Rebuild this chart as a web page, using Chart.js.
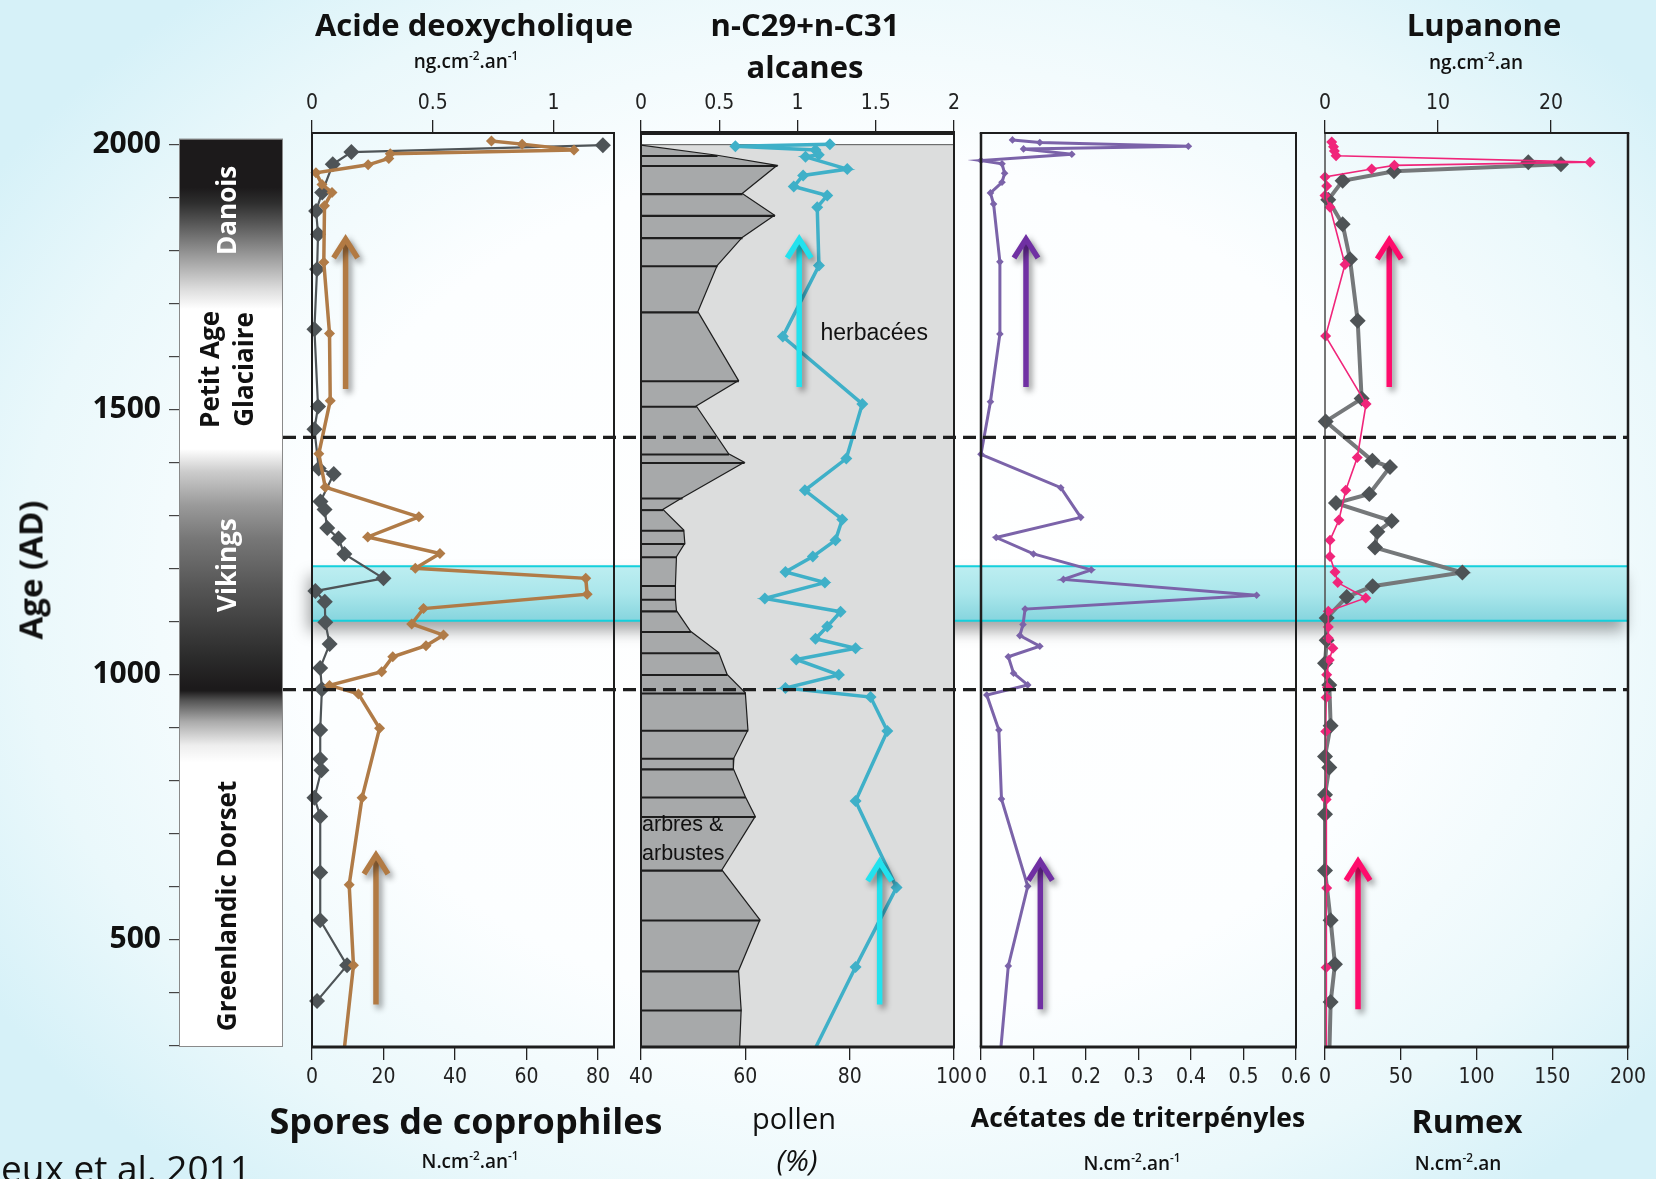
<!DOCTYPE html>
<html><head><meta charset="utf-8">
<script src="https://cdn.jsdelivr.net/npm/chart.js@4.4.1/dist/chart.umd.min.js"></script>
<style>
html,body{margin:0;padding:0;}
body{width:1656px;height:1179px;overflow:hidden;position:relative;
background: radial-gradient(ellipse 62% 66% at 52% 50%, #ffffff 0%, #fcfeff 55%, #eaf8fb 82%, #d6f1f8 100%);
font-family:'Open Sans',sans-serif;color:#111;}
canvas{position:absolute;}
.t{position:absolute;transform:translate(-50%,-50%);white-space:nowrap;line-height:1;}
.b{font-weight:700;}
.s{font-size:19px;font-weight:600;}
sup{font-size:0.62em;vertical-align:0.6em;line-height:0;}
</style></head><body>
<canvas id="base"></canvas>
<canvas id="p1"></canvas>
<canvas id="p2"></canvas>
<canvas id="p3"></canvas>
<canvas id="p4"></canvas>
<canvas id="over"></canvas>

<div class="t b" style="left:474px;top:24px;font-size:31px;">Acide deoxycholique</div>
<div class="t s" style="left:466px;top:61px;">ng.cm<sup>-2</sup>.an<sup>-1</sup></div>
<div class="t b" style="left:805px;top:24px;font-size:31px;">n-C29+n-C31</div>
<div class="t b" style="left:805px;top:66px;font-size:31px;">alcanes</div>
<div class="t b" style="left:1484px;top:24px;font-size:31px;">Lupanone</div>
<div class="t s" style="left:1476px;top:62px;">ng.cm<sup>-2</sup>.an</div>

<div class="t b" style="left:466px;top:1121px;font-size:36px;">Spores de coprophiles</div>
<div class="t s" style="left:470px;top:1161px;">N.cm<sup>-2</sup>.an<sup>-1</sup></div>
<div class="t" style="left:794px;top:1117px;font-size:29px;">pollen</div>
<div class="t" style="left:797px;top:1160px;font-size:30px;font-style:italic;">(%)</div>
<div class="t b" style="left:1138px;top:1117px;font-size:26.5px;">Acétates de triterpényles</div>
<div class="t s" style="left:1132px;top:1163px;">N.cm<sup>-2</sup>.an<sup>-1</sup></div>
<div class="t b" style="left:1467px;top:1121px;font-size:32px;">Rumex</div>
<div class="t s" style="left:1458px;top:1163px;">N.cm<sup>-2</sup>.an</div>
<div class="t" style="left:1px;top:1167px;font-size:37px;transform:translate(0,-50%);">eux et al. 2011</div>
<div class="t b" style="left:30px;top:570px;font-size:33px;transform:translate(-50%,-50%) rotate(-90deg);">Age (AD)</div>

<script>
// ================= DATA =================
// Panel 1 : Acide deoxycholique (ng.cm-2.an-1, top axis) - grey
const deoxyAge = [1999,1986,1963,1910,1875,1831,1765,1652,1506,1463,1389,1379,1327,1312,1277,1257,1228,1182,1158,1138,1099,1058,1013,973,896,841,820,768,733,627,537,452,385];
const deoxyVal = [1.204,0.163,0.086,0.042,0.017,0.025,0.021,0.010,0.025,0.010,0.028,0.090,0.035,0.052,0.063,0.110,0.134,0.296,0.014,0.053,0.055,0.073,0.034,0.041,0.034,0.034,0.039,0.010,0.034,0.034,0.034,0.145,0.021];
// Panel 1 : Spores de coprophiles (N.cm-2.an-1, bottom axis) - brown
const copAge = [2007,2001,1990,1983,1974,1962,1947,1925,1910,1885,1778,1644,1517,1417,1354,1298,1260,1229,1201,1182,1152,1125,1096,1075,1055,1034,1006,980,964,899,768,604,452,298];
const copVal = [50.2,58.8,73.3,21.9,21.5,15.7,1.1,2.8,5.6,3.5,3.3,4.9,5.1,1.9,3.7,29.9,15.6,35.8,28.9,76.6,77.0,31.2,27.9,36.8,31.9,22.6,19.5,4.9,13.0,18.9,14.0,10.4,11.6,9.1];
// Panel 2 : n-C29+n-C31 alcanes (top axis) - cyan
const alcAge = [2001,1997,1990,1981,1977,1954,1942,1921,1904,1882,1772,1638,1511,1408,1348,1293,1254,1223,1194,1174,1144,1119,1091,1068,1050,1029,1000,975,958,894,762,599,449,298];
const alcVal = [1.207,0.603,1.115,1.136,1.051,1.318,1.036,0.976,1.190,1.126,1.137,0.906,1.414,1.312,1.047,1.286,1.243,1.098,0.923,1.175,0.791,1.275,1.190,1.115,1.371,0.992,1.264,0.923,1.467,1.574,1.371,1.633,1.371,1.118];
// Panel 2 : pollen arbres & arbustes (%, bottom axis)
const polAge = [1999,1980,1961,1908,1867,1825,1772,1685,1555,1507,1417,1401,1334,1312,1273,1248,1223,1169,1143,1121,1082,1042,1001,966,896,843,823,770,733,632,538,442,368,297];
const polVal = [40.0,54.6,66.1,59.4,65.6,59.4,54.6,50.9,58.7,50.6,56.8,59.8,47.9,44.2,48.2,48.4,46.8,46.6,46.6,46.8,49.5,54.9,56.5,60.0,60.5,57.8,57.7,60.0,61.9,55.5,62.8,58.7,59.2,58.9];
const pollenTopAge = 2000;
// Panel 3 : Acétates de triterpényles (bottom axis) - purple
const triAge = [2009,2004,1997,1992,1982,1970,1964,1946,1929,1909,1888,1779,1643,1515,1416,1353,1297,1259,1228,1198,1180,1150,1124,1095,1074,1054,1034,1003,981,962,896,766,601,451,298];
const triVal = [0.060,0.112,0.395,0.081,0.173,0.000,0.040,0.045,0.040,0.018,0.024,0.036,0.036,0.018,0.000,0.152,0.190,0.029,0.100,0.210,0.157,0.525,0.084,0.080,0.074,0.112,0.052,0.062,0.089,0.011,0.034,0.039,0.089,0.052,0.038];
// Panel 4 : Lupanone (top axis) - grey
const lupAge = [1967,1963,1950,1932,1896,1850,1784,1668,1521,1478,1404,1392,1341,1324,1290,1270,1240,1193,1167,1147,1107,1065,1022,981,904,846,825,774,737,631,537,454,383,298];
const lupVal = [17.98,20.87,6.10,1.56,0.29,1.56,2.21,2.89,3.24,0.06,4.19,5.75,3.92,0.97,5.90,4.63,4.42,12.15,4.21,1.92,0.15,0.15,0.0,0.38,0.5,0.0,0.38,0.0,0.0,0.0,0.5,0.88,0.5,0.4];
// Panel 4 : Rumex (bottom axis) - pink
const rumAge = [2005,1996,1988,1979,1967,1961,1954,1939,1922,1904,1882,1774,1639,1511,1410,1348,1292,1254,1223,1194,1174,1145,1120,1090,1069,1050,1028,1000,976,957,893,765,598,448,298];
const rumVal = [4.4,5.6,6.2,7.3,175,45.8,30.8,0,1.1,0,3.3,13.2,0.4,27.1,21.3,13.7,9.2,3.3,3.3,6.6,8.4,26.9,2.2,2.2,2.2,5.2,2.8,1.1,1.7,0.8,0.5,0.8,1.1,0.8,0.8];

// axes & ticks
const AGE_MIN = 298, AGE_MAX = 2022;
const ageTicks = [300,400,500,600,700,800,900,1000,1100,1200,1300,1400,1500,1600,1700,1800,1900,2000];
const ageLabelled = [500,1000,1500,2000];
const deoxyRange = [0,1.25], deoxyTicks = [0,0.5,1];
const copRange = [0,84.5], copTicks = [0,20,40,60,80];
const alcRange = [0,2], alcTicks = [0,0.5,1,1.5,2];
const polRange = [40,100], polTicks = [40,60,80,100];
const triRange = [0,0.6], triTicks = [0,0.1,0.2,0.3,0.4,0.5,0.6];
const lupRange = [0,26.8], lupTicks = [0,10,20];
const rumRange = [0,200], rumTicks = [0,50,100,150,200];

// periods, band, limits
const periods = [
  {lines:['Danois'], age:1876, color:'#ffffff'},
  {lines:['Petit Age','Glaciaire'], age:1576, color:'#111111'},
  {lines:['Vikings'], age:1207, color:'#ffffff'},
  {lines:['Greenlandic Dorset'], age:564, color:'#111111'}
];
const chronoTopAge = 2011;
const chronoStops = [[2011,'#1c1a1b'],[1919,'#1c1a1b'],[1890,'#2e2e2e'],[1853,'#555555'],[1791,'#999999'],[1727,'#dddddd'],[1690,'#ffffff'],[1426,'#ffffff'],[1383,'#cccccc'],[1320,'#9a9a9a'],[1257,'#777777'],[1163,'#555555'],[1029,'#2a2a2a'],[977,'#1c1a1b'],[970,'#1c1a1b'],[951,'#555555'],[912,'#aaaaaa'],[867,'#eeeeee'],[835,'#ffffff'],[298,'#ffffff']];
const bandAges = [1102,1205];
const dashedAges = [1448,972];

// arrows (value on axis, from age -> to age)
const arrows1 = [{axis:'xBot', x:9.4, from:1539, to:1822},{axis:'xBot', x:17.9, from:378, to:660}];
const arrows2 = [{axis:'xTop', x:1.011, from:1543, to:1822},{axis:'xTop', x:1.525, from:378, to:647}];
const arrows3 = [{axis:'xBot', x:0.0857, from:1543, to:1822},{axis:'xBot', x:0.113, from:369, to:648}];
const arrows4 = [{axis:'xBot', x:42.4, from:1543, to:1820},{axis:'xBot', x:21.8, from:369, to:648}];

// ================= LAYOUT =================
const AREA_TOP = 133, AREA_BOTTOM = 1047;
const TOP_H = 45, BOT_H = 50, PAD = 28;
const CHRONO_L = 179, CHRONO_R = 283, BAND_L = 312, BAND_R = 1628, DASH_L = 283, DASH_R = 1628;
const TICK_FONT = "'Liberation Sans Narrow', 'DejaVu Sans Condensed', Roboto, sans-serif";
const P1 = {l:312, r:614}, P2 = {l:641, r:954}, P3 = {l:981, r:1296}, P4 = {l:1325, r:1628};

Chart.defaults.font.family = "'Open Sans', sans-serif";

function pts(ages, vals){ return ages.map((a,i)=>({x:vals[i], y:a})); }
function rad(r){ return ctx => (ctx.raw && ctx.raw.y <= AGE_MIN + 1) ? 0 : r; }
function lineDS(ages, vals, axis, color, width, r, pcolor){
  return {type:'line', data:pts(ages,vals), xAxisID:axis, yAxisID:'y', borderColor:color, backgroundColor:pcolor||color,
    borderWidth:width, pointStyle:'rectRot', pointRadius:rad(r), pointBorderWidth:0, pointBackgroundColor:pcolor||color,
    tension:0, fill:false, clip:false};
}
function xAxis(pos, range, ticks){
  return {type:'linear', position:pos, min:range[0], max:range[1], offset:false,
    afterBuildTicks: s => { s.ticks = ticks.map(v=>({value:v})); },
    afterFit: s => { s.height = (pos==='top') ? TOP_H : BOT_H; },
    grid:{drawOnChartArea:false, drawTicks:true, tickLength:13, color:'#222', lineWidth:1.3, offset:false},
    border:{display:false},
    ticks:{font:{family:TICK_FONT, size:21}, color:'#222', padding:(pos==='top')?4:5, maxRotation:0, autoSkip:false, callback:v=>String(v)}
  };
}
function drawArrow(ctx, x, yTail, yHead, color){
  ctx.save();
  ctx.shadowColor='rgba(0,0,0,0.45)'; ctx.shadowBlur=6; ctx.shadowOffsetX=3; ctx.shadowOffsetY=4;
  ctx.strokeStyle=color; ctx.lineWidth=5.5; ctx.lineCap='butt'; ctx.lineJoin='miter';
  ctx.beginPath(); ctx.moveTo(x,yTail); ctx.lineTo(x,yHead+3); ctx.stroke();
  ctx.beginPath(); ctx.moveTo(x-12,yHead+19); ctx.lineTo(x,yHead); ctx.lineTo(x+12,yHead+19); ctx.stroke();
  ctx.restore();
}
function panelPlugin(o){
  return {id:'panelDeco',
    beforeDatasetsDraw(chart){
      if(!o.herb) return;
      const a = chart.chartArea, ctx = chart.ctx, y0 = chart.scales.y.getPixelForValue(pollenTopAge);
      ctx.save(); ctx.fillStyle='#dcdddd'; ctx.fillRect(a.left, y0, a.right-a.left, a.bottom-y0);
      ctx.strokeStyle='#555'; ctx.lineWidth=1; ctx.beginPath(); ctx.moveTo(a.left,y0); ctx.lineTo(a.right,y0); ctx.stroke();
      ctx.restore();
    },
    afterDatasetsDraw(chart){
      const a = chart.chartArea, ctx = chart.ctx, f = o.frame, ys = chart.scales.y;
      ctx.save(); ctx.strokeStyle='#1e1e1e';
      const seg=(w,x1,y1,x2,y2,c)=>{ctx.lineWidth=w; ctx.strokeStyle=c||'#1e1e1e'; ctx.beginPath(); ctx.moveTo(x1,y1); ctx.lineTo(x2,y2); ctx.stroke();};
      seg(f.l, a.left, a.top, a.left, a.bottom, f.lc);
      seg(f.r, a.right, a.top, a.right, a.bottom);
      seg(f.t, a.left-f.l/2, a.top, a.right+f.r/2, a.top);
      seg(f.b, a.left-f.l/2, a.bottom, a.right+f.r/2, a.bottom);
      ctx.restore();
      (o.texts||[]).forEach(t=>{
        ctx.save(); ctx.font=t.font; ctx.fillStyle='#111'; ctx.textAlign=t.align; ctx.textBaseline='middle';
        ctx.fillText(t.text, chart.scales[t.axis].getPixelForValue(t.x), ys.getPixelForValue(t.age)); ctx.restore();
      });
      (o.arrows||[]).forEach(ar=>{
        drawArrow(ctx, chart.scales[ar.axis].getPixelForValue(ar.x), ys.getPixelForValue(ar.from), ys.getPixelForValue(ar.to), o.arrowColor);
      });
    }
  };
}
function makePanel(id, rect, o){
  const cv = document.getElementById(id);
  const W = rect.r - rect.l + 2*PAD, H = TOP_H + (AREA_BOTTOM-AREA_TOP) + BOT_H;
  cv.width = W; cv.height = H;
  cv.style.left = (rect.l-PAD)+'px'; cv.style.top = (AREA_TOP-TOP_H)+'px';
  const scales = {y:{type:'linear', min:AGE_MIN, max:AGE_MAX, display:false, offset:false, grid:{offset:false}}};
  if(o.top) scales.xTop = xAxis('top', o.top[0], o.top[1]);
  scales.xBot = xAxis('bottom', o.bot[0], o.bot[1]);
  return new Chart(cv, {type:'line', data:{datasets:o.datasets}, options:{
    animation:false, responsive:false, devicePixelRatio:1, events:[],
    layout:{padding:{left:PAD, right:PAD, top:o.top?0:TOP_H, bottom:0}},
    scales, plugins:{legend:{display:false}, tooltip:{enabled:false}}
  }, plugins:[panelPlugin(o)]});
}

// ---------- base chart: age axis, chronology bar, highlight band ----------
(function(){
  const cv = document.getElementById('base'); cv.width=1656; cv.height=1179; cv.style.left='0px'; cv.style.top='0px';
  new Chart(cv, {type:'line', data:{datasets:[]}, options:{
    animation:false, responsive:false, devicePixelRatio:1, events:[],
    layout:{padding:{left:0, right:1656-BAND_R, top:AREA_TOP, bottom:1179-AREA_BOTTOM}},
    scales:{
      x:{type:'linear', display:false, min:0, max:1},
      y:{type:'linear', position:'left', min:AGE_MIN, max:AGE_MAX,
        afterBuildTicks: s => { s.ticks = ageTicks.map(v=>({value:v})); },
        afterFit: s => { s.width = CHRONO_L; },
        grid:{drawOnChartArea:false, drawTicks:true, tickLength:10, color:'#444', lineWidth:1.2},
        border:{display:false},
        ticks:{autoSkip:false, padding:8, color:'#111', font:{family:"'Open Sans', sans-serif", weight:'bold', size:30},
          callback: v => ageLabelled.includes(v) ? String(v) : ''}
      }
    },
    plugins:{legend:{display:false}, tooltip:{enabled:false}}
  }, plugins:[{id:'chrono', afterDraw(chart){
    const ctx = chart.ctx, ys = chart.scales.y, a = chart.chartArea;
    const yT = ys.getPixelForValue(chronoTopAge), yB = a.bottom;
    const g = ctx.createLinearGradient(0, yT, 0, yB);
    chronoStops.forEach(s => g.addColorStop(Math.min(1,Math.max(0,(ys.getPixelForValue(s[0])-yT)/(yB-yT))), s[1]));
    ctx.save();
    ctx.fillStyle = g; ctx.fillRect(CHRONO_L, yT, CHRONO_R-CHRONO_L, yB-yT);
    ctx.strokeStyle='#8a8a8a'; ctx.lineWidth=1; ctx.strokeRect(CHRONO_L+0.5, yT+0.5, CHRONO_R-CHRONO_L-1, yB-yT-1);
    // labels
    const cx = (CHRONO_L+CHRONO_R)/2 - 2;
    periods.forEach(p => {
      const cy = ys.getPixelForValue(p.age);
      ctx.save(); ctx.translate(cx, cy); ctx.rotate(-Math.PI/2);
      ctx.font = "bold 26px 'Open Sans', sans-serif"; ctx.fillStyle = p.color; ctx.textAlign='center'; ctx.textBaseline='middle';
      const n = p.lines.length;
      p.lines.forEach((t,i)=> ctx.fillText(t, 0, (i-(n-1)/2)*34));
      ctx.restore();
    });
    // band with soft drop shadow
    const y1 = ys.getPixelForValue(bandAges[1]), y0 = ys.getPixelForValue(bandAges[0]);
    const bg = ctx.createLinearGradient(0, y1, 0, y0);
    bg.addColorStop(0,'#bdeef1'); bg.addColorStop(0.5,'#aae6eb'); bg.addColorStop(1,'#86d5de');
    ctx.save();
    ctx.shadowColor='rgba(0,0,0,0.35)'; ctx.shadowBlur=14; ctx.shadowOffsetX=-4; ctx.shadowOffsetY=10;
    ctx.fillStyle = bg; ctx.fillRect(BAND_L, y1, BAND_R-BAND_L, y0-y1);
    ctx.restore();
    ctx.fillStyle = bg; ctx.fillRect(BAND_L, y1, BAND_R-BAND_L, y0-y1);
    ctx.strokeStyle='#14d0dc'; ctx.lineWidth=2;
    ctx.beginPath(); ctx.moveTo(BAND_L,y1); ctx.lineTo(BAND_R,y1); ctx.moveTo(BAND_L,y0); ctx.lineTo(BAND_R,y0); ctx.stroke();
    ctx.restore();
  }}]});
})();

// ---------- panels ----------
makePanel('p1', P1, {
  top:[deoxyRange, deoxyTicks], bot:[copRange, copTicks],
  frame:{t:2, r:2, b:3.2, l:2},
  arrows:arrows1, arrowColor:'#b27a43',
  datasets:[
    lineDS(copAge, copVal, 'xBot', '#b07b47', 3.5, 5.5),
    lineDS(deoxyAge, deoxyVal, 'xTop', '#4e5457', 2.2, 8)
  ]
});
makePanel('p2', P2, {
  top:[alcRange, alcTicks], bot:[polRange, polTicks],
  frame:{t:4, r:2, b:3.2, l:2}, herb:true,
  arrows:arrows2, arrowColor:'#22e2ee',
  texts:[
    {text:'herbacées', axis:'xBot', x:84.7, age:1644, align:'center', font:"23px 'Liberation Sans', Arial, sans-serif"},
    {text:'arbres &', axis:'xBot', x:40.2, age:716, align:'left', font:"21.5px 'Liberation Sans', Arial, sans-serif"},
    {text:'arbustes', axis:'xBot', x:40.2, age:662, align:'left', font:"21.5px 'Liberation Sans', Arial, sans-serif"}
  ],
  datasets:[
    lineDS(alcAge, alcVal, 'xTop', '#3fb0c8', 3.5, 6),
    {type:'bar', indexAxis:'y', xAxisID:'xBot', yAxisID:'y',
      data: polAge.slice(1,-1).map((a,i)=>({x:[polRange[0], polVal[i+1]], y:a})),
      backgroundColor:'#1e1e1e', borderWidth:0, barThickness:1.4},
    {type:'line', xAxisID:'xBot', yAxisID:'y',
      data: pts(polAge, polVal).concat([{x:polRange[0], y:polAge[polAge.length-1]}]),
      borderColor:'#1e1e1e', borderWidth:1.2, backgroundColor:'#a7a9aa', fill:'shape', pointRadius:0, tension:0}
  ]
});
makePanel('p3', P3, {
  bot:[triRange, triTicks],
  frame:{t:2, r:2, b:3.2, l:2.5},
  arrows:arrows3, arrowColor:'#7030a3',
  datasets:[ lineDS(triAge, triVal, 'xBot', '#7b63a9', 3, 3.8) ]
});
makePanel('p4', P4, {
  top:[lupRange, lupTicks], bot:[rumRange, rumTicks],
  frame:{t:2, r:2.5, b:3.2, l:1.6, lc:'#555'},
  arrows:arrows4, arrowColor:'#ff0c6c',
  datasets:[
    lineDS(rumAge, rumVal, 'xBot', '#f0257a', 1.6, 5.5),
    lineDS(lupAge, lupVal, 'xTop', '#75787a', 4, 8, '#4e5356')
  ]
});

// ---------- overlay: period boundaries ----------
(function(){
  const cv = document.getElementById('over'); cv.width=1656; cv.height=1179; cv.style.left='0px'; cv.style.top='0px';
  new Chart(cv, {type:'line', data:{datasets:[]}, options:{
    animation:false, responsive:false, devicePixelRatio:1, events:[],
    layout:{padding:{left:0, right:0, top:AREA_TOP, bottom:1179-AREA_BOTTOM}},
    scales:{ x:{type:'linear', display:false, min:0, max:1}, y:{type:'linear', display:false, min:AGE_MIN, max:AGE_MAX} },
    plugins:{legend:{display:false}, tooltip:{enabled:false}}
  }, plugins:[{id:'dash', afterDraw(chart){
    const ctx = chart.ctx, ys = chart.scales.y;
    ctx.save(); ctx.strokeStyle='#1e1e1e'; ctx.lineWidth=3.2; ctx.setLineDash([13,7]);
    dashedAges.forEach(a => { const y = ys.getPixelForValue(a); ctx.beginPath(); ctx.moveTo(DASH_L,y); ctx.lineTo(DASH_R,y); ctx.stroke(); });
    ctx.restore();
  }}]});
})();
</script>
</body></html>
